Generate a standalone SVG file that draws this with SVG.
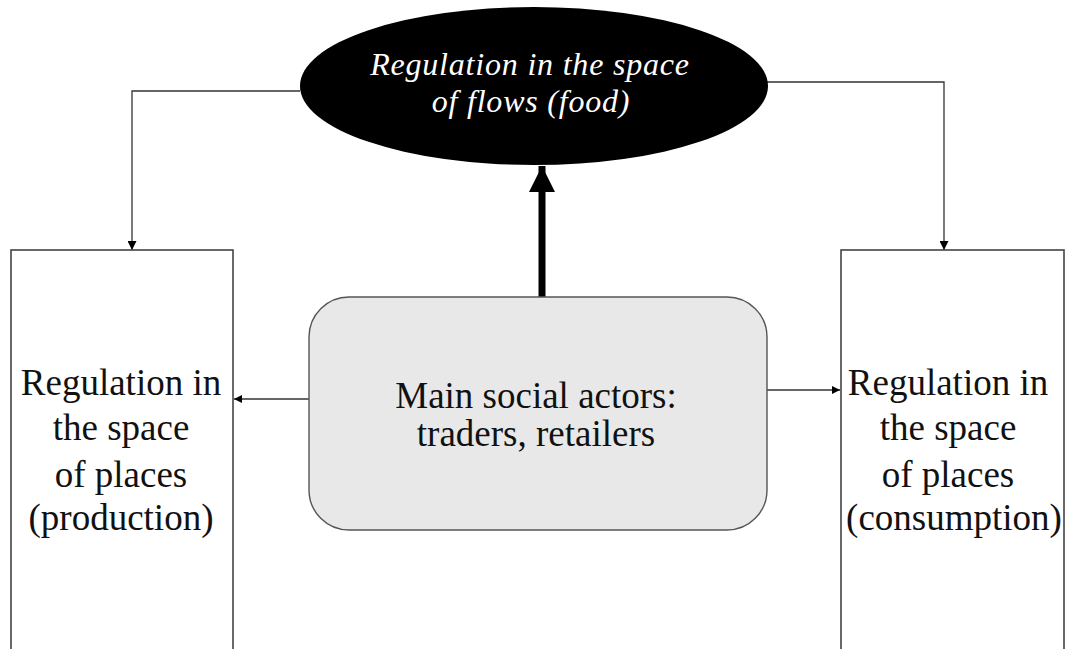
<svg xmlns="http://www.w3.org/2000/svg" width="1065" height="649" viewBox="0 0 1065 649">
<style>
.box{fill:#ffffff;stroke:#444444;stroke-width:1.6}
.core{fill:#e8e8e8;stroke:#555555;stroke-width:1.4}
.t{font-family:"Liberation Serif","Times New Roman",serif;font-size:37px;fill:#111111;text-anchor:middle}
.ti{font-family:"Liberation Serif","Times New Roman",serif;font-size:32px;letter-spacing:0.8px;font-style:italic;fill:#ffffff;text-anchor:middle}
.thin{fill:none;stroke:#333333;stroke-width:1.3}
.thick{fill:none;stroke:#000000;stroke-width:7}
</style>
<defs>
<marker id="ah" viewBox="0 0 10 10" refX="10" refY="5" markerWidth="10" markerHeight="9" markerUnits="userSpaceOnUse" orient="auto"><path d="M0,0 L10,5 L0,10 Z" fill="#000"/></marker>
<marker id="ahs" viewBox="0 0 10 10" refX="10" refY="5" markerWidth="11" markerHeight="8" markerUnits="userSpaceOnUse" orient="auto"><path d="M0,0 L10,5 L0,10 Z" fill="#000"/></marker>
<marker id="ahb" viewBox="0 0 10 10" refX="10" refY="5" markerWidth="26" markerHeight="26" markerUnits="userSpaceOnUse" orient="auto"><path d="M0,0 L10,5 L0,10 Z" fill="#000"/></marker>
</defs>
<g id="connectors">
<polyline class="thin" points="300,91 132,91 132,250" marker-end="url(#ah)"/>
<polyline class="thin" points="765,82 944,82 944,250" marker-end="url(#ah)"/>
<line class="thick" x1="542" y1="297" x2="542" y2="166" marker-end="url(#ahb)"/>
<line class="thin" x1="309" y1="399" x2="234" y2="399" marker-end="url(#ahs)"/>
<line class="thin" x1="767" y1="390" x2="840" y2="390" marker-end="url(#ahs)"/>
</g>
<g id="flows">
<ellipse cx="534" cy="86" rx="234" ry="79" fill="#000000"/>
<text class="ti" x="530" y="75">Regulation in the space</text>
<text class="ti" x="531" y="112">of flows (food)</text>
</g>
<g id="production">
<rect class="box" x="11" y="250" width="222" height="420"/>
<text class="t" x="121" y="395">Regulation in</text>
<text class="t" x="121" y="440">the space</text>
<text class="t" x="121" y="487">of places</text>
<text class="t" x="121" y="530">(production)</text>
</g>
<g id="consumption">
<rect class="box" x="841" y="250" width="223" height="420"/>
<text class="t" x="948" y="395">Regulation in</text>
<text class="t" x="948" y="440">the space</text>
<text class="t" x="948" y="487">of places</text>
<text class="t" x="954" y="530">(consumption)</text>
</g>
<g id="actors">
<rect class="core" x="309" y="297" width="458" height="233" rx="40" ry="40"/>
<text class="t" x="536" y="408">Main social actors:</text>
<text class="t" x="536" y="446">traders, retailers</text>
</g>
</svg>
